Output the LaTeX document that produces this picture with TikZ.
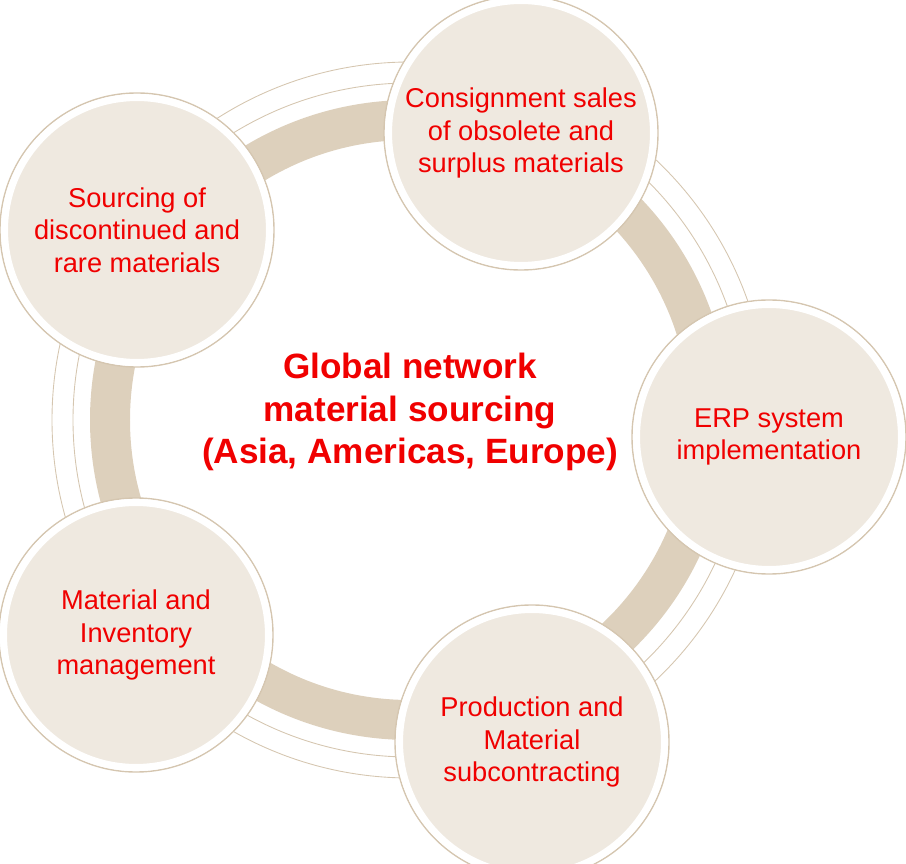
\documentclass[tikz,border=0pt]{standalone}
\usepackage{fontspec}
\setmainfont{Liberation Sans}
\definecolor{bandtan}{HTML}{DDD0BC}
\definecolor{disc}{HTML}{EFE9E0}
\definecolor{rim}{HTML}{D5C6B0}
\definecolor{txtred}{HTML}{F00000}
\tikzset{
  hub/.style={circle,minimum size=5.3cm,fill=disc,draw=white,line width=4pt,
    align=center,text=txtred,font=\fontsize{15.5}{18.5}\selectfont},
  hubrim/.style={draw=rim,line width=0.8pt}
}
\begin{document}
\begin{tikzpicture}[x=0.02cm,y=-0.02cm]
  \useasboundingbox (0,0) rectangle (906,864);
  % ring
  \draw[bandtan,line width=0.8cm] (410,420) circle (300);
  \draw[rim,line width=0.5pt] (410,420) circle (358);
  \draw[rim,line width=0.5pt] (410,420) circle (337);
  % circles
  \foreach \cx/\cy in {521/133,137/230,769/437,136/635,532/742}
    \draw[hubrim,fill=white] (\cx,\cy) circle (137);
  \node[hub] (consign) at (521,133) {Consignment sales\\of obsolete and\\surplus materials};
  \node[hub] (sourcing) at (137,230) {Sourcing of\\discontinued and\\rare materials};
  \node[hub] (erp) at (769,437) {ERP system\\implementation};
  \node[hub] (inventory) at (136,635) {Material and\\Inventory\\management};
  \node[hub] (production) at (532,742) {Production and\\Material\\subcontracting};
  \node[text=txtred,align=center,font=\bfseries\fontsize{20}{24}\selectfont] (title) at (410,412)
    {Global network\\material sourcing\\(Asia, Americas, Europe)};
\end{tikzpicture}
\end{document}
